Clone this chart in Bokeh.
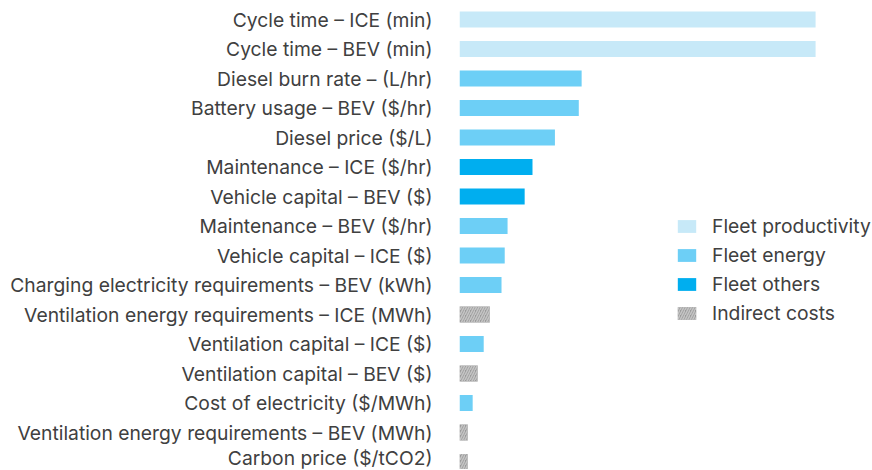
from bokeh.plotting import figure
from bokeh.models import Range1d, FixedTicker, ColumnDataSource, Legend, LegendItem
from bokeh.embed import file_html
from bokeh.resources import INLINE

categories = [
    "Cycle time – ICE (min)",
    "Cycle time – BEV (min)",
    "Diesel burn rate – (L/hr)",
    "Battery usage – BEV ($/hr)",
    "Diesel price ($/L)",
    "Maintenance – ICE ($/hr)",
    "Vehicle capital – BEV ($)",
    "Maintenance – BEV ($/hr)",
    "Vehicle capital – ICE ($)",
    "Charging electricity requirements – BEV (kWh)",
    "Ventilation energy requirements – ICE (MWh)",
    "Ventilation capital – ICE ($)",
    "Ventilation capital – BEV ($)",
    "Cost of electricity ($/MWh)",
    "Ventilation energy requirements – BEV (MWh)",
    "Carbon price ($/tCO2)",
]
values = [100, 100, 34.3, 33.5, 26.8, 20.5, 18.3, 13.5, 12.7, 11.8, 8.5, 6.8, 5.1, 3.7, 2.3, 2.3]
groups = [
    "Fleet productivity", "Fleet productivity",
    "Fleet energy", "Fleet energy", "Fleet energy",
    "Fleet others", "Fleet others",
    "Fleet energy", "Fleet energy", "Fleet energy",
    "Indirect costs",
    "Fleet energy",
    "Indirect costs",
    "Fleet energy",
    "Indirect costs", "Indirect costs",
]
group_names = ["Fleet productivity", "Fleet energy", "Fleet others", "Indirect costs"]
group_colors = {
    "Fleet productivity": "#C7E9F8",
    "Fleet energy": "#6DCFF6",
    "Fleet others": "#00AEEF",
    "Indirect costs": "#9A9A9A",
}

FONT = "Inter"
FONT_SIZE = "19.3px"
TEXT_COLOR = "#404040"

n = len(categories)
p = figure(
    frame_width=412, frame_height=462,
    x_range=Range1d(0, 115.7),
    y_range=Range1d(n - 1 + 0.254, -0.407),
    output_backend="svg", toolbar_location=None,
    min_border_left=459, min_border_right=0, min_border_top=7, min_border_bottom=0,
)

items = []
for g in group_names:
    idx = [i for i in range(n) if groups[i] == g]
    src = ColumnDataSource(dict(y=idx, right=[values[i] for i in idx]))
    kw = dict(y="y", right="right", left=0, height=0.54, source=src,
              fill_color=group_colors[g], line_color=None)
    if g == "Indirect costs":
        kw.update(hatch_pattern="right_diagonal_line", hatch_color="#c4c4c4",
                  hatch_scale=5, hatch_weight=1.6)
    r = p.hbar(**kw)
    items.append(LegendItem(label=g, renderers=[r]))

legend = Legend(items=items, location=(216, 144), padding=0, margin=0,
                glyph_width=23, glyph_height=16, label_height=20, spacing=5,
                label_standoff=14, border_line_alpha=0, background_fill_alpha=0,
                label_text_font=FONT, label_text_font_size=FONT_SIZE,
                label_text_color=TEXT_COLOR)
p.add_layout(legend, "center")

p.xaxis.visible = False
p.yaxis.ticker = FixedTicker(ticks=list(range(n)))
p.yaxis.major_label_overrides = {i: c for i, c in enumerate(categories)}
p.yaxis.axis_line_color = None
p.yaxis.major_tick_line_color = None
p.yaxis.minor_tick_line_color = None
p.yaxis.major_tick_out = 0
p.yaxis.major_tick_in = 0
p.yaxis.major_label_standoff = 27
p.yaxis.major_label_text_font = FONT
p.yaxis.major_label_text_font_size = FONT_SIZE
p.yaxis.major_label_text_color = TEXT_COLOR
p.grid.visible = False
p.outline_line_color = None

open("out.html", "w").write(file_html(p, INLINE))
